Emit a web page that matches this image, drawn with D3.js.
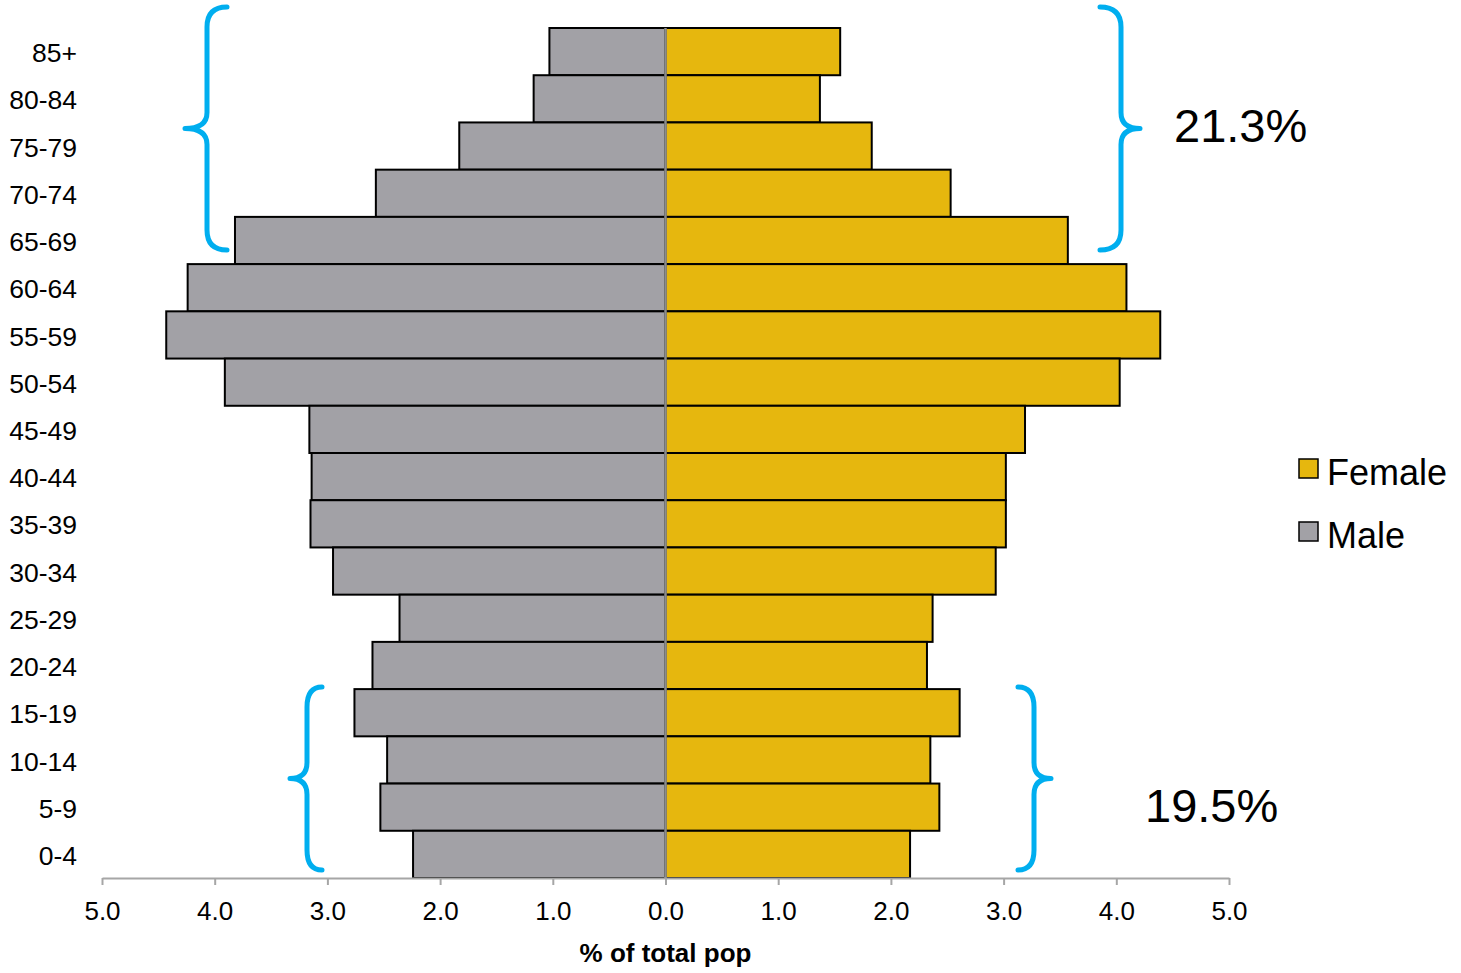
<!DOCTYPE html>
<html>
<head>
<meta charset="utf-8">
<script src="https://cdn.jsdelivr.net/npm/d3@7"></script>
<style>
  html, body { margin: 0; padding: 0; background: #fff; }
  svg { display: block; font-family: "Liberation Sans", Arial, sans-serif; }
</style>
</head>
<body>
<svg id="chart" width="1461" height="973"></svg>
<script>
// Age groups, top to bottom
const ageGroups = ["85+","80-84","75-79","70-74","65-69","60-64","55-59","50-54","45-49",
                   "40-44","35-39","30-34","25-29","20-24","15-19","10-14","5-9","0-4"];
// % of total population
const maleValues   = [1.03,1.17,1.83,2.57,3.82,4.24,4.43,3.91,3.16,3.14,3.15,2.95,2.36,2.60,2.76,2.47,2.53,2.24];
const femaleValues = [1.55,1.37,1.83,2.53,3.57,4.09,4.39,4.03,3.19,3.02,3.02,2.93,2.37,2.32,2.61,2.35,2.43,2.17];
const xTicks = [-5,-4,-3,-2,-1,0,1,2,3,4,5];
const seriesNames = ["Female","Male"];
const annotations = ["21.3%","19.5%"];
const axisTitle = "% of total pop";

const colors = { Female: "#E6B70E", Male: "#A2A1A6" };
const braceColor = "#00AEEF";

const svg = d3.select("#chart");

const x = d3.scaleLinear().domain([-5, 5]).range([102, 1229]);
const y = d3.scaleBand().domain(ageGroups).range([28, 878]).padding(0);

// Bars
const rows = ageGroups.map((g, i) => ({ g, male: maleValues[i], female: femaleValues[i] }));

svg.append("g").selectAll("rect.male").data(rows).join("rect")
  .attr("x", d => x(-d.male))
  .attr("y", d => y(d.g))
  .attr("width", d => x(0) - x(-d.male))
  .attr("height", y.bandwidth())
  .attr("fill", colors.Male)
  .attr("stroke", "#000")
  .attr("stroke-width", 2);

svg.append("g").selectAll("rect.female").data(rows).join("rect")
  .attr("x", x(0))
  .attr("y", d => y(d.g))
  .attr("width", d => x(d.female) - x(0))
  .attr("height", y.bandwidth())
  .attr("fill", colors.Female)
  .attr("stroke", "#000")
  .attr("stroke-width", 2);

// Center line
svg.append("line")
  .attr("x1", x(0)).attr("x2", x(0))
  .attr("y1", y.range()[0]).attr("y2", y.range()[1])
  .attr("stroke", "#8c8c8c").attr("stroke-width", 2.5);

// X axis
const xAxis = svg.append("g")
  .attr("transform", `translate(0,${y.range()[1]})`)
  .call(d3.axisBottom(x).tickValues(xTicks).tickFormat(d => Math.abs(d).toFixed(1))
        .tickSize(7).tickSizeOuter(0).tickPadding(17));
xAxis.select(".domain").attr("stroke", "#a6a6a6").attr("stroke-width", 2);
xAxis.selectAll(".tick line").attr("stroke", "#a6a6a6").attr("stroke-width", 2);
xAxis.selectAll(".tick text").attr("font-size", 26).attr("fill", "#000")
  .attr("font-family", "Liberation Sans, Arial, sans-serif");

// Y axis labels
const yAxis = svg.append("g")
  .attr("transform", `translate(80,0)`)
  .call(d3.axisLeft(y).tickSize(0).tickPadding(3));
yAxis.select(".domain").remove();
yAxis.selectAll(".tick text").attr("font-size", 26.5).attr("fill", "#000")
  .attr("dy", "0.4em")
  .attr("font-family", "Liberation Sans, Arial, sans-serif");

// Axis title
svg.append("text")
  .attr("x", x(0)).attr("y", 962)
  .attr("text-anchor", "middle")
  .attr("font-size", 26).attr("font-weight", "bold")
  .text(axisTitle);

// Braces
function bracePath(xEnd, xSpine, xTip, yTop, yMid, yBot, r) {
  const rt = 16;
  return `M${xEnd},${yTop} Q${xSpine},${yTop} ${xSpine},${yTop + r}` +
         ` L${xSpine},${yMid - rt} Q${xSpine},${yMid} ${xTip},${yMid}` +
         ` Q${xSpine},${yMid} ${xSpine},${yMid + rt}` +
         ` L${xSpine},${yBot - r} Q${xSpine},${yBot} ${xEnd},${yBot}`;
}
const braces = [
  { xEnd: 227, xSpine: 207, xTip: 185, yTop: y("85+") - 21, yBot: y("65-69") + y.bandwidth() - 14 },
  { xEnd: 1100, xSpine: 1121, xTip: 1140, yTop: y("85+") - 21, yBot: y("65-69") + y.bandwidth() - 14 },
  { xEnd: 322, xSpine: 307, xTip: 290, yTop: y("15-19") - 2, yBot: y("0-4") + y.bandwidth() - 8 },
  { xEnd: 1018, xSpine: 1034, xTip: 1051, yTop: y("15-19") - 2, yBot: y("0-4") + y.bandwidth() - 8 }
];
svg.append("g").selectAll("path").data(braces).join("path")
  .attr("d", b => bracePath(b.xEnd, b.xSpine, b.xTip, b.yTop, (b.yTop + b.yBot) / 2, b.yBot, 20))
  .attr("fill", "none")
  .attr("stroke", braceColor)
  .attr("stroke-width", 5)
  .attr("stroke-linecap", "round")
  .attr("stroke-linejoin", "round");

// Annotation percentages
svg.append("text").attr("x", 1174).attr("y", 142)
  .attr("font-size", 47).text(annotations[0]);
svg.append("text").attr("x", 1145).attr("y", 822)
  .attr("font-size", 47).text(annotations[1]);

// Legend
const legend = svg.append("g");
seriesNames.forEach((name, i) => {
  const g = legend.append("g").attr("transform", `translate(1299,${459 + i * 63})`);
  g.append("rect").attr("width", 19).attr("height", 19)
    .attr("fill", colors[name]).attr("stroke", "#000").attr("stroke-width", 1.5);
  g.append("text").attr("x", 28).attr("y", 26)
    .attr("font-size", 36).text(name);
});
</script>
</body>
</html>
